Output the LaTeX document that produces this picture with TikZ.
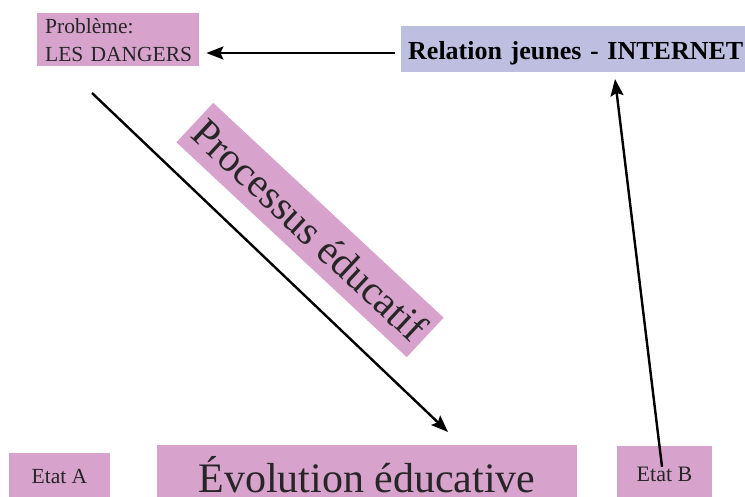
\documentclass[tikz,border=0pt]{standalone}
\usepackage{fontspec}
\setmainfont{Liberation Serif}
\usetikzlibrary{arrows.meta}
\definecolor{pinkbox}{RGB}{215,162,204}
\definecolor{lavbox}{RGB}{190,190,225}
\tikzset{
  pbox/.style={fill=pinkbox, inner sep=0pt, text=black!85},
  lbox/.style={fill=lavbox, inner sep=0pt, text=black},
  arr/.style={line width=2.4pt, -{Stealth[length=17pt,width=13pt,inset=3pt]}}
}
\begin{document}
\begin{tikzpicture}[x=1pt,y=-1pt]
\useasboundingbox (0,0) rectangle (745,497);
\clip (0,0) rectangle (745,497);
% top boxes
\node[pbox, anchor=north west, text width=152pt, inner xsep=5pt, minimum height=53pt, align=left,
      font=\fontsize{21.5}{28}\selectfont] (prob) at (37,13) {\hspace*{3pt}Problème:\\\hspace*{3pt}LES DANGERS};
\node[lbox, anchor=base west, text width=345pt, inner xsep=7pt, text height=34pt, text depth=12pt, align=left,
      font=\fontsize{26}{30}\selectfont\bfseries] (rel) at (401,60) {Relation jeunes - INTERNET};
% rotated label
\node[pbox, rotate=-43, minimum width=315pt, minimum height=54pt,
      font=\fontsize{41}{44}\selectfont] (proc) at (310,230) {Processus éducatif};
% bottom boxes
\node[pbox, anchor=base, minimum width=101pt, text height=30pt, text depth=20pt,
      font=\fontsize{21.5}{24}\selectfont] (etatA) at (59.5,483) {Etat A};
\node[pbox, anchor=base, minimum width=420pt, text height=47pt, text depth=20pt,
      font=\fontsize{42}{46}\selectfont] (evo) at (367,492) {Évolution éducative};
\node[pbox, anchor=base, minimum width=95pt, text height=35pt, text depth=20pt,
      font=\fontsize{22}{25}\selectfont] (etatB) at (664.5,481) {Etat B};
% connectors
\coordinate (dstart) at (92,93);
\coordinate (dend) at (448,432);
\coordinate (upend) at (615,79);
\draw[arr] ([xshift=-6pt,yshift=-4pt]rel.west) -- ([xshift=7pt]prob.east |- 0,53);
\draw[arr] (dstart) -- (dend);
\draw[arr] ([xshift=-2.5pt,yshift=-21pt]etatB.north) -- (upend);
\end{tikzpicture}
\end{document}
